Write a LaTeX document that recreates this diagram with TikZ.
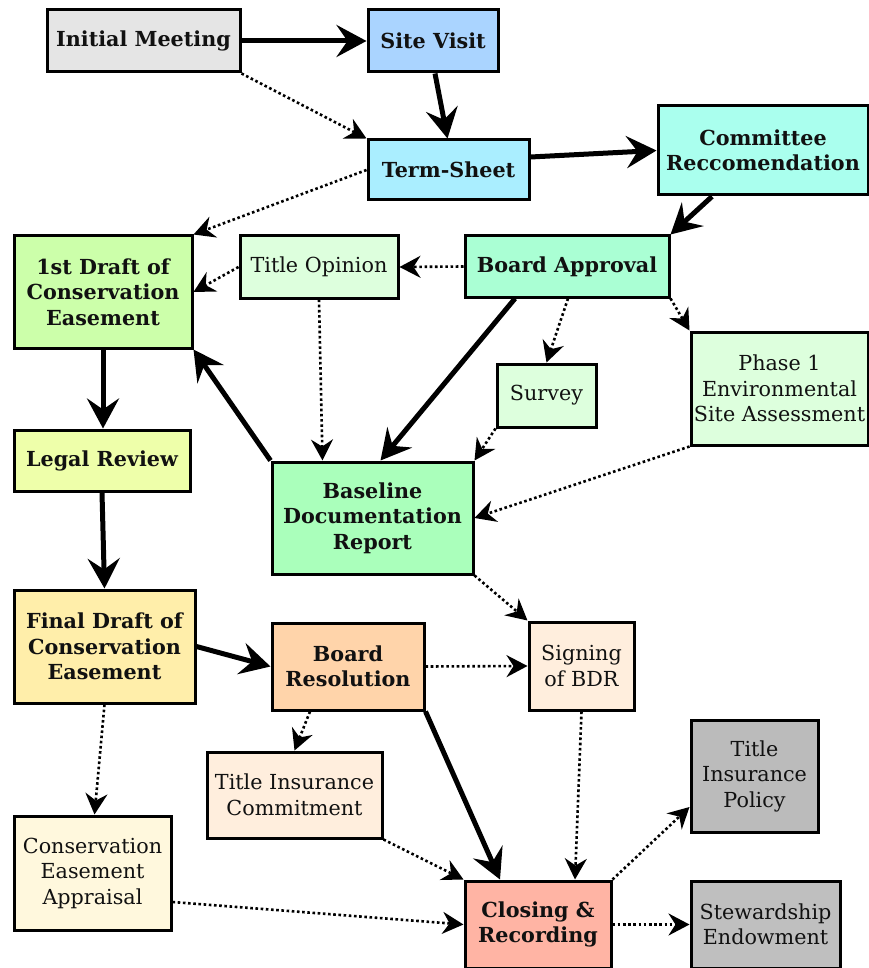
\documentclass[tikz,border=0pt]{standalone}
\usepackage{fontspec}
\setmainfont{DejaVu Serif}
\usetikzlibrary{arrows.meta,calc}
\definecolor{cInit}{HTML}{E5E5E5}
\definecolor{cSite}{HTML}{AAD4FF}
\definecolor{cTerm}{HTML}{AAEEFF}
\definecolor{cComm}{HTML}{AAFFEE}
\definecolor{cDraft}{HTML}{CCFFAA}
\definecolor{cPale}{HTML}{DDFFDD}
\definecolor{cBoard}{HTML}{AAFFD4}
\definecolor{cLegal}{HTML}{EEFFAA}
\definecolor{cBase}{HTML}{AAFFBB}
\definecolor{cFinal}{HTML}{FFEEAA}
\definecolor{cRes}{HTML}{FFD4AA}
\definecolor{cPeach}{HTML}{FFEEDD}
\definecolor{cApp}{HTML}{FFF8DD}
\definecolor{cGray}{HTML}{BBBBBB}
\definecolor{cGrayB}{HTML}{BFBFBF}
\definecolor{cClose}{HTML}{FFB4A4}
\definecolor{txt}{HTML}{111111}
\tikzset{
  box/.style={draw=black, line width=3pt, rectangle, align=center, text=txt,
    inner sep=0pt, font=\fontsize{20.7}{25.5}\selectfont},
  bbox/.style={box, font=\fontsize{20.7}{25.5}\selectfont\bfseries},
  solidarrow/.style={line width=5pt, -{Stealth[length=30pt,width=32pt,inset=11pt]}},
  dotarrow/.style={line width=2.6pt, dash pattern=on 2.6pt off 2.6pt,
    -{Stealth[length=21pt,width=22pt,inset=7pt]}}
}
\begin{document}
\begin{tikzpicture}[x=1pt,y=-1pt]
\useasboundingbox (0,0) rectangle (868,968);
\node[bbox, fill=cInit, minimum width=193pt, minimum height=62pt] (init) at (143.5,41) {Initial Meeting};
\node[bbox, fill=cSite, minimum width=130pt, minimum height=62pt] (site) at (433,41) {Site Visit};
\node[bbox, fill=cTerm, minimum width=161pt, minimum height=60pt] (term) at (448.5,170) {Term-Sheet};
\node[bbox, fill=cComm, minimum width=210pt, minimum height=89pt] (comm) at (763,150.5) {Committee\\Reccomendation};
\node[bbox, fill=cDraft, minimum width=178pt, minimum height=112pt] (draft1) at (103,292) {1st Draft of\\Conservation\\Easement};
\node[box, fill=cPale, minimum width=158pt, minimum height=62pt] (titleop) at (319,267) {Title Opinion};
\node[bbox, fill=cBoard, minimum width=204pt, minimum height=61pt] (boardapp) at (567,266.5) {Board Approval};
\node[box, fill=cPale, minimum width=99pt, minimum height=63pt] (survey) at (546.5,395.5) {Survey};
\node[box, fill=cPale, minimum width=177pt, minimum height=113pt] (phase1) at (779.5,388.5) {Phase 1\\Environmental\\Site Assessment};
\node[bbox, fill=cLegal, minimum width=176pt, minimum height=61pt] (legal) at (102,460.5) {Legal Review};
\node[bbox, fill=cBase, minimum width=201pt, minimum height=112pt] (base) at (372.5,518) {Baseline\\Documentation\\Report};
\node[bbox, fill=cFinal, minimum width=181pt, minimum height=113pt] (final) at (104.5,646.5) {Final Draft of\\Conservation\\Easement};
\node[bbox, fill=cRes, minimum width=152pt, minimum height=87pt] (res) at (348,666.5) {Board\\Resolution};
\node[box, fill=cPeach, minimum width=105pt, minimum height=88pt] (sign) at (581.5,666) {Signing\\of BDR};
\node[box, fill=cPeach, minimum width=175pt, minimum height=86pt] (tic) at (294.5,795) {Title Insurance\\Commitment};
\node[box, fill=cApp, minimum width=157pt, minimum height=114pt] (app) at (92.5,873) {Conservation\\Easement\\Appraisal};
\node[box, fill=cGray, minimum width=127pt, minimum height=112pt] (tip) at (754.5,776) {Title\\Insurance\\Policy};
\node[bbox, fill=cClose, minimum width=146pt, minimum height=87pt] (close) at (538,924.5) {Closing \&\\Recording};
\node[box, fill=cGrayB, minimum width=149pt, minimum height=87pt] (stew) at (765.5,924.5) {Stewardship\\Endowment};
% solid arrows
\draw[solidarrow] (init.east) -- (site.west);
\draw[solidarrow] ([xshift=2pt]site.south) -- ([xshift=-1pt]term.north);
\draw[solidarrow] ([yshift=13pt]term.east) -- (comm.west);
\draw[solidarrow] ([xshift=-51pt]comm.south) -- (boardapp.north east);
\draw[solidarrow] ([xshift=-52pt]boardapp.south) -- ([xshift=8pt]base.north);
\draw[solidarrow] (base.north west) -- (draft1.south east);
\draw[solidarrow] (draft1.south) -- (draft1.south |- legal.north);
\draw[solidarrow] (legal.south) -- (final.north);
\draw[solidarrow] (final.east) -- (res.west);
\draw[solidarrow] (res.south east) -- ([xshift=-38pt]close.north);
% dotted arrows
\draw[dotarrow] (init.south east) -- (term.north west);
\draw[dotarrow] (term.west) -- (draft1.north east);
\draw[dotarrow] (titleop.west) -- (draft1.east);
\draw[dotarrow] (boardapp.west) -- (titleop.east);
\draw[dotarrow] (titleop.south) -- ([xshift=-50pt]base.north);
\draw[dotarrow] ([xshift=1pt]boardapp.south) -- (survey.north);
\draw[dotarrow] (boardapp.south east) -- (phase1.north west);
\draw[dotarrow] (survey.south west) -- (base.north east);
\draw[dotarrow] (phase1.south west) -- (base.east);
\draw[dotarrow] (base.south east) -- (sign.north west);
\draw[dotarrow] (res.east) -- (sign.west);
\draw[dotarrow] ([xshift=-38pt]res.south) -- (tic.north);
\draw[dotarrow] (final.south) -- ([xshift=2pt]app.north);
\draw[dotarrow] (tic.south east) -- (close.north west);
\draw[dotarrow] ([yshift=-29pt]app.east) -- (close.west);
\draw[dotarrow] (sign.south) -- ([xshift=37pt]close.north);
\draw[dotarrow] (close.north east) -- ([yshift=-31pt]tip.west);
\draw[dotarrow] (close.east) -- (stew.west);
\end{tikzpicture}
\end{document}
